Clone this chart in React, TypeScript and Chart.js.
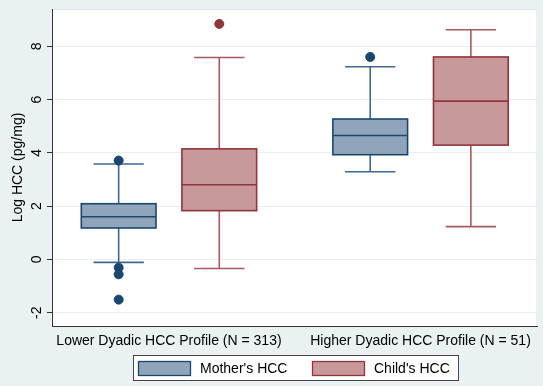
import React, { useEffect, useRef } from "react";
import { Chart, registerables } from "chart.js";

Chart.register(...registerables);

const categories = ["Lower Dyadic HCC Profile (N = 313)", "Higher Dyadic HCC Profile (N = 51)"];
const seriesNames = ["Mother's HCC", "Child's HCC"];

const motherMin = [-0.11, 3.29];
const motherQ1 = [1.18, 3.93];
const motherMedian = [1.6, 4.65];
const motherQ3 = [2.09, 5.27];
const motherMax = [3.58, 7.23];
const motherOutliers = [[3.71, -0.31, -0.56, -1.51], [7.6]];

const childMin = [-0.34, 1.23];
const childQ1 = [1.83, 4.29];
const childMedian = [2.8, 5.94];
const childQ3 = [4.15, 7.6];
const childMax = [7.58, 8.62];
const childOutliers = [[8.84], []];

const yTicks = [-2, 0, 2, 4, 6, 8];
const yTitle = "Log HCC (pg/mg)";

const FONT = "'Liberation Sans', Arial, sans-serif";
const BG = "#eaf1f3";
const styles = [
  { fill: "#90a5ba", stroke: "#1a476f", whisker: "#3f6790", outlier: "#1a476f" },
  { fill: "#c8989b", stroke: "#90353b", whisker: "#a85a60", outlier: "#90353b" },
];
const OFFSET = 0.2;
const BOX_W = 0.297;
const CAP_W = 0.2;

const series = [
  { min: motherMin, q1: motherQ1, med: motherMedian, q3: motherQ3, max: motherMax, out: motherOutliers },
  { min: childMin, q1: childQ1, med: childMedian, q3: childQ3, max: childMax, out: childOutliers },
];

const boxPlugin = {
  id: "boxes",
  beforeDraw(chart: any) {
    const { ctx, chartArea: a, width, height } = chart;
    ctx.save();
    ctx.fillStyle = BG;
    ctx.fillRect(0, 0, width, height);
    ctx.fillStyle = "#ffffff";
    ctx.fillRect(a.left, a.top, a.right - a.left, a.bottom - a.top);
    ctx.strokeStyle = "#dfe7eb";
    ctx.lineWidth = 1;
    ctx.strokeRect(a.left + 0.5, a.top + 0.5, a.right - a.left - 1, a.bottom - a.top);
    ctx.restore();
  },
  beforeDatasetsDraw(chart: any) {
    const { ctx } = chart;
    const xs = chart.scales.x;
    const ys = chart.scales.y;
    ctx.save();
    series.forEach((s, si) => {
      const st = styles[si];
      categories.forEach((_, gi) => {
        const xc = gi + (si === 0 ? -OFFSET : OFFSET);
        const px = xs.getPixelForValue(xc);
        const bl = xs.getPixelForValue(xc - BOX_W / 2);
        const br = xs.getPixelForValue(xc + BOX_W / 2);
        const cl = xs.getPixelForValue(xc - CAP_W / 2);
        const cr = xs.getPixelForValue(xc + CAP_W / 2);
        const yMin = ys.getPixelForValue(s.min[gi]);
        const yQ1 = ys.getPixelForValue(s.q1[gi]);
        const yMed = ys.getPixelForValue(s.med[gi]);
        const yQ3 = ys.getPixelForValue(s.q3[gi]);
        const yMax = ys.getPixelForValue(s.max[gi]);
        // whiskers
        ctx.strokeStyle = st.whisker;
        ctx.lineWidth = 1.6;
        ctx.beginPath();
        ctx.moveTo(px, yQ3);
        ctx.lineTo(px, yMax);
        ctx.moveTo(cl, yMax);
        ctx.lineTo(cr, yMax);
        ctx.moveTo(px, yQ1);
        ctx.lineTo(px, yMin);
        ctx.moveTo(cl, yMin);
        ctx.lineTo(cr, yMin);
        ctx.stroke();
        // box
        ctx.fillStyle = st.fill;
        ctx.fillRect(bl, yQ3, br - bl, yQ1 - yQ3);
        ctx.strokeStyle = st.stroke;
        ctx.lineWidth = 1.6;
        ctx.strokeRect(bl, yQ3, br - bl, yQ1 - yQ3);
        ctx.beginPath();
        ctx.moveTo(bl, yMed);
        ctx.lineTo(br, yMed);
        ctx.stroke();
      });
    });
    ctx.restore();
  },
  afterDraw(chart: any) {
    const { ctx, chartArea: a } = chart;
    const ys = chart.scales.y;
    ctx.save();
    ctx.fillStyle = "#000";
    ctx.font = `14px ${FONT}`;
    ctx.textAlign = "center";
    ctx.textBaseline = "middle";
    yTicks.forEach((v) => {
      const py = ys.getPixelForValue(v);
      ctx.save();
      ctx.translate(37, py);
      ctx.rotate(-Math.PI / 2);
      ctx.fillText(String(v), 0, 0);
      ctx.restore();
    });
    ctx.save();
    ctx.translate(18, (a.top + a.bottom) / 2);
    ctx.rotate(-Math.PI / 2);
    ctx.fillText(yTitle, 0, 0);
    ctx.restore();

    // legend
    const lx = 133, ly = 355, lw = 326, lh = 26;
    ctx.fillStyle = "#ffffff";
    ctx.fillRect(lx, ly, lw, lh);
    ctx.strokeStyle = "#444";
    ctx.lineWidth = 1;
    ctx.strokeRect(lx + 0.5, ly + 0.5, lw - 1, lh - 1);
    const swX = [138, 312];
    seriesNames.forEach((name, i) => {
      const st = styles[i];
      ctx.fillStyle = st.fill;
      ctx.fillRect(swX[i], 361, 53, 15);
      ctx.strokeStyle = st.stroke;
      ctx.lineWidth = 1.3;
      ctx.strokeRect(swX[i] + 0.5, 361.5, 52, 14);
      ctx.fillStyle = "#000";
      ctx.textAlign = "left";
      ctx.textBaseline = "middle";
      ctx.font = `14px ${FONT}`;
      ctx.fillText(name, swX[i] + 62, 369);
    });
    ctx.restore();
  },
};

export default function App() {
  const ref = useRef<HTMLCanvasElement | null>(null);
  useEffect(() => {
    document.body.style.margin = "0";
    const outlierData = series.map((s, si) => {
      const pts: { x: number; y: number }[] = [];
      s.out.forEach((arr, gi) => {
        arr.forEach((v) => pts.push({ x: gi + (si === 0 ? -OFFSET : OFFSET), y: v }));
      });
      return pts;
    });
    const chart = new Chart(ref.current as HTMLCanvasElement, {
      type: "scatter",
      data: {
        datasets: seriesNames.map((name, i) => ({
          label: name,
          data: outlierData[i],
          backgroundColor: styles[i].outlier,
          borderColor: styles[i].outlier,
          pointRadius: 4.5,
          pointHoverRadius: 4.5,
        })),
      },
      options: {
        animation: false,
        responsive: false,
        maintainAspectRatio: false,
        layout: { padding: { top: 9, right: 4, left: 0, bottom: 0 } },
        plugins: { legend: { display: false }, tooltip: { enabled: false } },
        scales: {
          x: {
            type: "linear",
            min: -0.465,
            max: 1.465,
            afterFit: (s: any) => {
              s.height = 60;
            },
            afterBuildTicks: (s: any) => {
              s.ticks = categories.map((_, i) => ({ value: i }));
            },
            ticks: {
              callback: (v: any) => categories[v as number] ?? "",
              color: "#000",
              font: { family: FONT, size: 14 },
              maxRotation: 0,
              minRotation: 0,
              autoSkip: false,
              padding: 7,
            },
            grid: { display: false, drawTicks: false },
            border: { display: true, color: "#333", width: 1 },
          },
          y: {
            min: -2.5,
            max: 9.4,
            afterFit: (s: any) => {
              s.width = 52;
            },
            afterBuildTicks: (s: any) => {
              s.ticks = yTicks.map((v) => ({ value: v }));
            },
            ticks: { display: false },
            grid: { color: "#e6eef1", tickColor: "#333", tickLength: 5, lineWidth: 1 },
            border: { display: true, color: "#333", width: 1 },
          },
        },
      },
      plugins: [boxPlugin],
    });
    return () => chart.destroy();
  }, []);
  return (
    <div style={{ width: 543, height: 386 }}>
      <canvas ref={ref} width={543} height={386} style={{ display: "block" }} />
    </div>
  );
}
